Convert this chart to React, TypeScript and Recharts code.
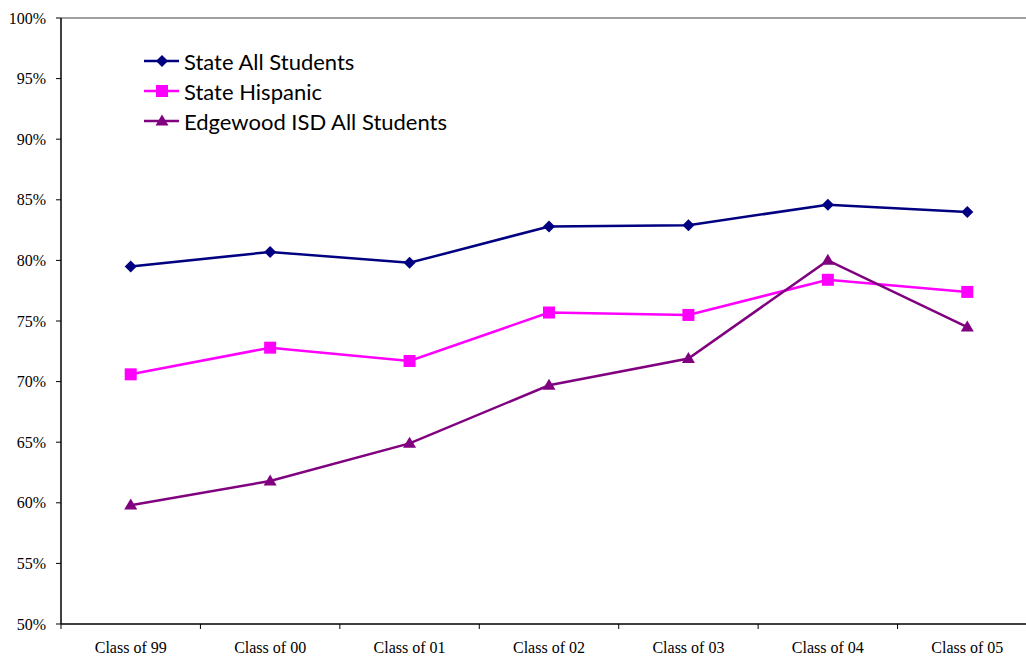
import { LineChart, Line, XAxis, YAxis, ReferenceLine } from 'recharts';

const classes = ['Class of 99', 'Class of 00', 'Class of 01', 'Class of 02', 'Class of 03', 'Class of 04', 'Class of 05'];
const stateAll = [79.5, 80.7, 79.8, 82.8, 82.9, 84.6, 84.0];
const stateHispanic = [70.6, 72.8, 71.7, 75.7, 75.5, 78.4, 77.4];
const edgewoodAll = [59.8, 61.8, 64.9, 69.7, 71.9, 80.0, 74.5];
const yTicks = [50, 55, 60, 65, 70, 75, 80, 85, 90, 95, 100];

const series = [
  { key: 'stateAll', name: 'State All Students', color: '#000080', shape: 'diamond' },
  { key: 'stateHispanic', name: 'State Hispanic', color: '#FF00FF', shape: 'square' },
  { key: 'edgewoodAll', name: 'Edgewood ISD All Students', color: '#800080', shape: 'triangle' },
];

const data = classes.map((c, i) => ({
  name: c,
  stateAll: stateAll[i],
  stateHispanic: stateHispanic[i],
  edgewoodAll: edgewoodAll[i],
}));

const CHART_W = 1040;
const CHART_H = 656;
const Y_AXIS_W = 61;
const MARGIN = { top: 18, right: 3, bottom: 0, left: 0 };
const PLOT_W = CHART_W - Y_AXIS_W - MARGIN.left - MARGIN.right;
const BAND = PLOT_W / classes.length;

function marker(shape: string, cx: number, cy: number, color: string, key?: string) {
  if (shape === 'diamond') {
    const r = 6;
    return <polygon key={key} points={`${cx},${cy - r} ${cx + r},${cy} ${cx},${cy + r} ${cx - r},${cy}`} fill={color} />;
  }
  if (shape === 'square') {
    const r = 6;
    return <rect key={key} x={cx - r} y={cy - r} width={r * 2} height={r * 2} fill={color} />;
  }
  const h = 11;
  return <polygon key={key} points={`${cx},${cy - h * 0.6} ${cx + 6.5},${cy + h * 0.4} ${cx - 6.5},${cy + h * 0.4}`} fill={color} />;
}

const makeDot = (shape: string, color: string) => (props: any) => {
  const { cx, cy, index } = props;
  if (cx == null || cy == null) return <g key={`d-${index}`} />;
  return marker(shape, cx, cy, color, `${shape}-${index}`);
};

const XTick = (props: any) => {
  const { x, y, payload, index } = props;
  const half = BAND / 2;
  return (
    <g>
      <line x1={x - half} y1={y - 8} x2={x - half} y2={y - 3} stroke="#000" strokeWidth={1} />
      {index === classes.length - 1 && (
        <line x1={x + half} y1={y - 8} x2={x + half} y2={y - 3} stroke="#000" strokeWidth={1} />
      )}
      <text x={x} y={y + 21} textAnchor="middle" fontFamily="'Liberation Serif', serif" fontSize={16} fill="#000">
        {payload.value}
      </text>
    </g>
  );
};

function LegendBox() {
  return (
    <div style={{ position: 'absolute', left: 144, top: 46, fontFamily: 'Lato, sans-serif', fontSize: 22, color: '#000' }}>
      {series.map((s) => (
        <div key={s.key} style={{ display: 'flex', alignItems: 'center', height: 30 }}>
          <svg width={36} height={16} style={{ marginRight: 4 }}>
            <line x1={0} y1={8} x2={35} y2={8} stroke={s.color} strokeWidth={2.5} />
            {marker(s.shape, 18, 8, s.color)}
          </svg>
          <span>{s.name}</span>
        </div>
      ))}
    </div>
  );
}

export default function App() {
  return (
    <div style={{ position: 'absolute', left: 0, top: 0, width: 1026, height: 656, overflow: 'hidden', background: '#fff' }}>
      <LineChart width={CHART_W} height={CHART_H} data={data} margin={MARGIN}>
        <ReferenceLine y={100} stroke="#808080" strokeWidth={1.5} />
        <XAxis
          dataKey="name"
          height={32}
          tickLine={false}
          axisLine={{ stroke: '#000', strokeWidth: 1.5 }}
          tick={<XTick />}
          interval={0}
          padding={{ left: BAND / 2, right: BAND / 2 }}
        />
        <YAxis
          width={Y_AXIS_W}
          domain={[50, 100]}
          ticks={yTicks}
          tickFormatter={(v: number) => `${v}%`}
          tickSize={5}
          tickMargin={10}
          axisLine={{ stroke: '#000', strokeWidth: 1.5 }}
          tickLine={{ stroke: '#000' }}
          tick={{ fontFamily: "'Liberation Serif', serif", fontSize: 16, fill: '#000' }}
          allowDataOverflow
        />
        {series.map((s) => (
          <Line
            key={s.key}
            type="linear"
            dataKey={s.key}
            name={s.name}
            stroke={s.color}
            strokeWidth={2.5}
            dot={makeDot(s.shape, s.color)}
            activeDot={false}
            isAnimationActive={false}
          />
        ))}
      </LineChart>
      <LegendBox />
    </div>
  );
}
